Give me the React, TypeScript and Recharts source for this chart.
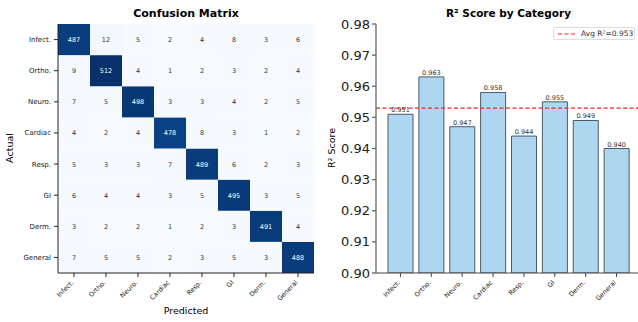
import React from 'react';
import { BarChart, Bar, XAxis, YAxis, Cell, LabelList, ReferenceLine } from 'recharts';

const categories = ['Infect.', 'Ortho.', 'Neuro.', 'Cardiac', 'Resp.', 'GI', 'Derm.', 'General'];

// rows = actual, columns = predicted
const matrix = [
  [487, 12, 5, 2, 4, 8, 3, 6],
  [9, 512, 4, 1, 2, 3, 2, 4],
  [7, 5, 498, 3, 3, 4, 2, 5],
  [4, 2, 4, 478, 8, 3, 1, 2],
  [5, 3, 3, 7, 489, 6, 2, 3],
  [6, 4, 4, 3, 5, 495, 3, 5],
  [3, 2, 2, 1, 2, 3, 491, 4],
  [7, 5, 5, 2, 3, 5, 3, 488],
];

const r2Scores = [0.951, 0.963, 0.947, 0.958, 0.944, 0.955, 0.949, 0.94];
const r2Ticks = [0.9, 0.91, 0.92, 0.93, 0.94, 0.95, 0.96, 0.97, 0.98];
const avgR2 = 0.953;

const FONT = '"DejaVu Sans", sans-serif';

// matplotlib "Blues"
const blues = ['#f7fbff', '#deebf7', '#c6dbef', '#9ecae1', '#6baed6', '#4292c6', '#2171b5', '#08519c', '#08306b'];
const hex = (h: string) => [1, 3, 5].map(i => parseInt(h.slice(i, i + 2), 16));
const allVals = matrix.flat();
const vMin = Math.min(...allVals);
const vMax = Math.max(...allVals);
const bluesColor = (v: number) => {
  const t = Math.max(0, Math.min(1, (v - vMin) / (vMax - vMin))) * (blues.length - 1);
  const i = Math.min(Math.floor(t), blues.length - 2);
  const f = t - i;
  const a = hex(blues[i]);
  const b = hex(blues[i + 1]);
  const c = a.map((x, k) => Math.round(x + (b[k] - x) * f));
  return `rgb(${c[0]},${c[1]},${c[2]})`;
};

// one entry per predicted column, with a unit-height cell for each actual row
const heatData = categories.map((pred, j) => {
  const d: any = { pred };
  matrix.forEach((row, r) => {
    d[`c_${r}`] = 1;
    d[`v_${r}`] = row[j];
  });
  return d;
});
// bottom of the stack is the last row
const stackRows = categories.map((_, r) => r).reverse();
const heatYTicks = categories.map((_, i) => i + 0.5);

const barData = categories.map((name, i) => ({ name, score: r2Scores[i] }));

const RotTick = ({ x, y, payload, size }: any) => (
  <text x={x} y={y} dy={4} textAnchor="end" fontSize={size} fill="#222" fontFamily={FONT} transform={`rotate(-45, ${x}, ${y + 4})`}>
    {payload.value}
  </text>
);

const CellLabel = ({ x, y, width, height, value }: any) => (
  <text x={x + width / 2} y={y + height / 2} dy={2.5} textAnchor="middle" fontSize={6.5} fontFamily={FONT} fill={value > vMax / 2 ? '#fff' : '#333'}>
    {value}
  </text>
);

const abs = (left: number, top: number): React.CSSProperties => ({ position: 'absolute', left, top, fontFamily: FONT, whiteSpace: 'nowrap' });

// rotated axis title centred on (cx, cy)
const VLabel = ({ cx, cy, text }: { cx: number; cy: number; text: string }) => (
  <div style={{ ...abs(cx - 50, cy - 7), width: 100, height: 14, lineHeight: '14px', textAlign: 'center', fontSize: 9.5, transform: 'rotate(-90deg)' }}>
    {text}
  </div>
);

export default function App() {
  return (
    <div style={{ position: 'absolute', left: 0, top: 0, width: 638, height: 322, background: '#fff', overflow: 'hidden' }}>
      {/* Confusion matrix */}
      <div style={{ ...abs(0, 7), width: 372, textAlign: 'center', fontWeight: 'bold', fontSize: 11 }}>Confusion Matrix</div>
      <div style={{ position: 'absolute', left: 0, top: 0 }}>
        <BarChart width={320} height={322} data={heatData} margin={{ top: 24, right: 6, bottom: 0, left: 0 }} barCategoryGap={0}>
          <XAxis dataKey="pred" tick={<RotTick size={6.5} />} tickSize={4} stroke="#222" height={49} interval={0} />
          <XAxis xAxisId="top" orientation="top" dataKey="pred" tick={false} tickLine={false} height={0} stroke="#222" />
          <YAxis
            type="number"
            domain={[0, 8]}
            ticks={heatYTicks}
            tickFormatter={(v: number) => categories[7 - Math.floor(v)]}
            tick={{ fontSize: 7, fill: '#222', fontFamily: FONT }}
            tickSize={4}
            tickMargin={3}
            width={58}
            stroke="#222"
          />
          <YAxis yAxisId="right" orientation="right" type="number" domain={[0, 8]} tick={false} tickLine={false} width={0} stroke="#222" />
          {stackRows.map(r => (
            <Bar key={r} dataKey={`c_${r}`} stackId="a" isAnimationActive={false}>
              {heatData.map((d, j) => (
                <Cell key={j} fill={bluesColor(d[`v_${r}`])} />
              ))}
              <LabelList dataKey={`v_${r}`} content={<CellLabel />} />
            </Bar>
          ))}
        </BarChart>
      </div>
      <div style={{ ...abs(0, 305), width: 372, textAlign: 'center', fontSize: 9.5 }}>Predicted</div>
      <VLabel cx={10} cy={148} text="Actual" />

      {/* R2 bar chart */}
      <div style={{ ...abs(376, 7), width: 265, textAlign: 'center', fontWeight: 'bold', fontSize: 10.5 }}>R² Score by Category</div>
      <div style={{ position: 'absolute', left: 320, top: 0 }}>
        <BarChart width={321} height={322} data={barData} margin={{ top: 24, right: 0, bottom: 0, left: 0 }}>
          <XAxis dataKey="name" tick={<RotTick size={6.5} />} tickSize={4} stroke="#444" height={49} interval={0} padding={{ left: 9, right: 9 }} />
          <XAxis xAxisId="top" orientation="top" dataKey="name" tick={false} tickLine={false} height={0} stroke="#444" />
          <YAxis
            type="number"
            domain={[0.9, 0.98]}
            ticks={r2Ticks}
            allowDataOverflow
            tickFormatter={(v: number) => v.toFixed(2)}
            tick={{ fontSize: 13, fill: '#222', fontFamily: FONT }}
            tickSize={4}
            tickMargin={2}
            width={56}
            stroke="#666"
            strokeWidth={1.3}
          />
          <Bar dataKey="score" barSize={25} fill="#aed6f1" stroke="#4a5a6a" strokeWidth={1} isAnimationActive={false}>
            <LabelList dataKey="score" position="top" offset={2} formatter={(v: any) => Number(v).toFixed(3)} style={{ fontSize: 6.5, fill: '#333', fontFamily: FONT }} />
          </Bar>
          <ReferenceLine y={avgR2} stroke="#ff2020" strokeDasharray="4 2.5" strokeWidth={1.2} />
        </BarChart>
      </div>
      <VLabel cx={332} cy={148} text="R² Score" />
      <div
        style={{
          ...abs(553, 27),
          width: 82,
          height: 13,
          border: '1px solid #ddd',
          borderRadius: 2,
          background: '#fff',
          fontSize: 7.5,
          display: 'flex',
          alignItems: 'center',
          boxSizing: 'border-box',
        }}
      >
        <svg width={22} height={6} style={{ marginLeft: 3 }}>
          <line x1={1} y1={3} x2={19} y2={3} stroke="#ff2020" strokeWidth={1.2} strokeDasharray="4 2.5" />
        </svg>
        <span style={{ color: '#333', marginLeft: 2 }}>Avg R²=0.953</span>
      </div>
    </div>
  );
}
